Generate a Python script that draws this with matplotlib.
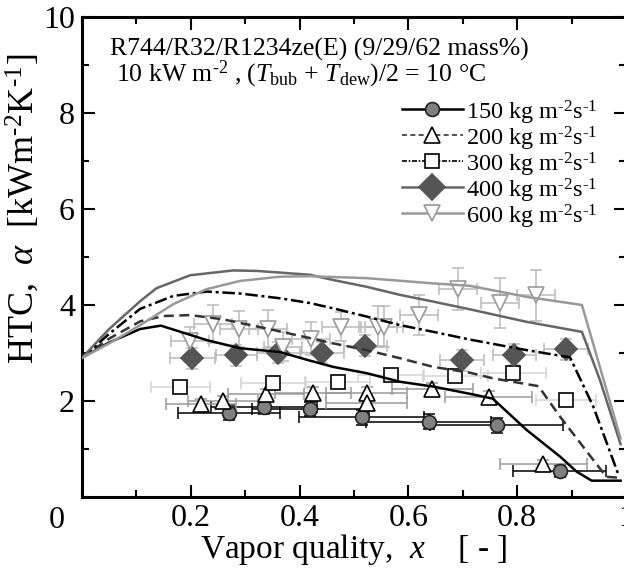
import matplotlib
matplotlib.use("Agg")
import matplotlib.pyplot as plt
from matplotlib.ticker import MultipleLocator

plt.rcParams['font.family'] = ['Liberation Serif', 'DejaVu Serif']
plt.rcParams['mathtext.fontset'] = 'custom'
plt.rcParams['mathtext.rm'] = 'Liberation Serif'
plt.rcParams['mathtext.it'] = 'Liberation Serif:italic'

# ---- measured data (symbols) ----
x150 = [0.270, 0.335, 0.420, 0.514, 0.637, 0.762, 0.878]
y150 = [1.76, 1.88, 1.83, 1.66, 1.57, 1.49, 0.54]
xe150 = [0.094, 0.097, 0.107, 0.115, 0.115, 0.123, 0.085]
ye150 = [0.15, 0.15, 0.15, 0.15, 0.15, 0.15, 0.12]

x200 = [0.219, 0.259, 0.338, 0.425, 0.523, 0.523, 0.644, 0.748, 0.848]
y200 = [1.94, 2.01, 2.15, 2.17, 2.17, 1.96, 2.26, 2.09, 0.68]
xe200 = [0.065, 0.065, 0.07, 0.07, 0.075, 0.075, 0.075, 0.08, 0.08]
ye200 = [0.1, 0.1, 0.1, 0.12, 0.12, 0.12, 0.12, 0.12, 0.1]

x300 = [0.181, 0.352, 0.470, 0.568, 0.686, 0.793, 0.890]
y300 = [2.30, 2.38, 2.40, 2.54, 2.53, 2.58, 2.02]
xe300 = [0.054, 0.06, 0.06, 0.06, 0.06, 0.06, 0.055]
ye300 = [0.12, 0.12, 0.12, 0.12, 0.12, 0.12, 0.12]

x400 = [0.203, 0.284, 0.361, 0.442, 0.521, 0.699, 0.795, 0.890]
y400 = [2.89, 2.95, 3.01, 3.01, 3.15, 2.85, 2.96, 3.08]
xe400 = [0.041, 0.038, 0.04, 0.04, 0.04, 0.04, 0.04, 0.04]
ye400 = [0.22, 0.22, 0.22, 0.22, 0.22, 0.22, 0.22, 0.22]

x600 = [0.198, 0.241, 0.289, 0.342, 0.369, 0.421, 0.477, 0.544, 0.555, 0.620, 0.692, 0.769, 0.834]
y600 = [3.24, 3.60, 3.50, 3.50, 3.13, 3.30, 3.55, 3.55, 3.55, 3.79, 4.34, 4.04, 4.20]
xe600 = [0.035] * 13
ye600 = [0.3, 0.4, 0.38, 0.39, 0.3, 0.35, 0.31, 0.42, 0.42, 0.41, 0.44, 0.52, 0.53]

# ---- model curves ----
cx150 = [0, 0.05, 0.107, 0.145, 0.229, 0.290, 0.364, 0.413, 0.462, 0.523, 0.585, 0.646, 0.713, 0.755, 0.817, 0.879, 0.909, 0.937, 0.99]
cy150 = [2.9, 3.22, 3.50, 3.57, 3.27, 3.10, 3.02, 2.86, 2.71, 2.58, 2.40, 2.30, 2.15, 2.05, 1.40, 0.84, 0.53, 0.34, 0.34]

cx200 = [0, 0.05, 0.107, 0.15, 0.199, 0.260, 0.352, 0.419, 0.462, 0.523, 0.585, 0.646, 0.713, 0.756, 0.839, 0.879, 0.940, 0.964, 0.99]
cy200 = [2.9, 3.3, 3.66, 3.77, 3.79, 3.70, 3.48, 3.31, 3.20, 3.06, 2.89, 2.71, 2.59, 2.47, 2.31, 1.67, 0.77, 0.42, 0.40]

cx300 = [0, 0.05, 0.107, 0.168, 0.229, 0.290, 0.364, 0.419, 0.462, 0.523, 0.585, 0.646, 0.713, 0.817, 0.897, 0.940, 0.985]
cy300 = [2.9, 3.4, 3.92, 4.19, 4.28, 4.24, 4.14, 4.04, 3.93, 3.76, 3.58, 3.44, 3.28, 3.06, 2.91, 1.88, 0.50]

cx400 = [0, 0.05, 0.107, 0.137, 0.199, 0.278, 0.321, 0.419, 0.462, 0.523, 0.585, 0.646, 0.713, 0.817, 0.919, 0.952, 0.99]
cy400 = [2.9, 3.5, 4.08, 4.35, 4.62, 4.72, 4.71, 4.63, 4.52, 4.38, 4.21, 4.07, 3.91, 3.65, 3.44, 2.44, 1.10]

cx600 = [0, 0.05, 0.107, 0.168, 0.229, 0.290, 0.364, 0.419, 0.523, 0.646, 0.713, 0.817, 0.919, 0.99]
cy600 = [2.9, 3.2, 3.58, 4.02, 4.33, 4.50, 4.59, 4.60, 4.56, 4.45, 4.40, 4.17, 4.00, 1.22]

fluxes = ['150', '200', '300', '400', '600']
sup = r' kg m$^{\text{-}2}$s$^{\text{-}1}$'

fig = plt.figure(figsize=(6.24, 5.69), dpi=100)
ax = fig.add_axes([82 / 624, 72 / 569, 544 / 624, 480 / 569])

markers = [
    dict(marker='o', mfc='#808080', mec='#222222', ms=10),
    dict(marker='^', mfc='white', mec='black', ms=11),
    dict(marker='s', mfc='white', mec='black', ms=10),
    dict(marker='D', mfc='#555555', mec='#555555', ms=11),
    dict(marker='v', mfc='white', mec='#999999', ms=11),
]
ecolors = ['black', '#999999', '#d4d4d4', '#bbbbbb', '#bbbbbb']
lines = [
    dict(color='black', lw=1.8),
    dict(color='#333333', lw=1.8, dashes=(4, 2.2)),
    dict(color='black', lw=1.8, dashes=(5, 1.5, 1.2, 1.5)),
    dict(color='#666666', lw=1.8),
    dict(color='#999999', lw=1.8),
]
pts = [(x150, y150, xe150, ye150), (x200, y200, xe200, ye200), (x300, y300, xe300, ye300),
       (x400, y400, xe400, ye400), (x600, y600, xe600, ye600)]
curves = [(cx150, cy150), (cx200, cy200), (cx300, cy300), (cx400, cy400), (cx600, cy600)]

for (xs, ys, xe, ye), mk, ecol in zip(pts, markers, ecolors):
    ax.errorbar(xs, ys, xerr=xe, yerr=ye, fmt='none', ecolor=ecol, elinewidth=1.1,
                capsize=4, capthick=1.1, zorder=2)
    ax.plot(xs, ys, ls='none', mew=1.2, zorder=3, **mk)

for (cx, cy), ls in zip(curves, lines):
    ax.plot(cx, cy, zorder=4, **ls)

# legend drawn by hand (line + symbol + label), rows 26 px apart
leg_handle_lw = [1.8, 1.2, 1.2, 1.8, 1.8]
for i, (flux, mk, ls) in enumerate(zip(fluxes, markers, lines)):
    yrow = (497 - (109 + 26 * i)) / 480
    st = dict(ls)
    st['lw'] = leg_handle_lw[i]
    if 'dashes' in st:
        st['dashes'] = (3, 2) if i == 1 else (3, 1, 1, 1)
    mk_l = dict(mk)
    if i == 3:
        mk_l['ms'] = 13
    ax.plot([(402 - 82) / 544, (463 - 82) / 544], [yrow, yrow], transform=ax.transAxes,
            clip_on=False, zorder=5, **st)
    ax.plot([(432 - 82) / 544], [yrow], transform=ax.transAxes, clip_on=False,
            ls='none', mew=1.2, zorder=6, **mk_l)
    ax.text((466 - 82) / 544, yrow, flux + sup, transform=ax.transAxes, fontsize=17.5,
            ha='left', va='center_baseline')

ax.text(0.051, 0.919, 'R744/R32/R1234ze(E) (9/29/62 mass%)', transform=ax.transAxes,
        fontsize=18.5, va='baseline', ha='left')
ax.text(0.063, 0.866, r'10 kW m$^{\text{-}2}$ , ($T_{\rm bub}$ + $T_{\rm dew}$)/2 = 10 °C',
        transform=ax.transAxes, fontsize=18.5, va='baseline', ha='left')

ax.set_xlim(0, 1)
ax.set_ylim(0, 10)
ax.xaxis.set_minor_locator(MultipleLocator(0.1))
ax.yaxis.set_minor_locator(MultipleLocator(1))
ax.set_xticks([0.2, 0.4, 0.6, 0.8, 1.0])
ax.set_xticklabels(['0.2', '0.4', '0.6', '0.8', '1'])
ax.set_yticks([2, 4, 6, 8, 10])
ax.set_yticklabels(['2', '4', '6', '8', '10'])
ax.tick_params(which='both', direction='in', top=True, right=True, labelsize=23, width=1.5)
ax.tick_params(which='major', length=9, pad=5)
ax.tick_params(which='minor', length=5)
for s in ax.spines.values():
    s.set_linewidth(2.2)

# shared corner zero
ax.annotate('0', xy=(0, 0), xycoords='axes fraction', xytext=(-18, -17),
            textcoords='offset points', fontsize=23, ha='center', va='center')

ax.set_xlabel(r'Vapor quality,  $x$    [ - ]', fontsize=24, labelpad=-1)
ax.set_ylabel(r'HTC,  $\alpha$  [kWm$^{\text{-}2}$K$^{\text{-}1}$]', fontsize=26)
ax.yaxis.set_label_coords(-0.075, 0.60)

fig.savefig('out.png', dpi=100)
